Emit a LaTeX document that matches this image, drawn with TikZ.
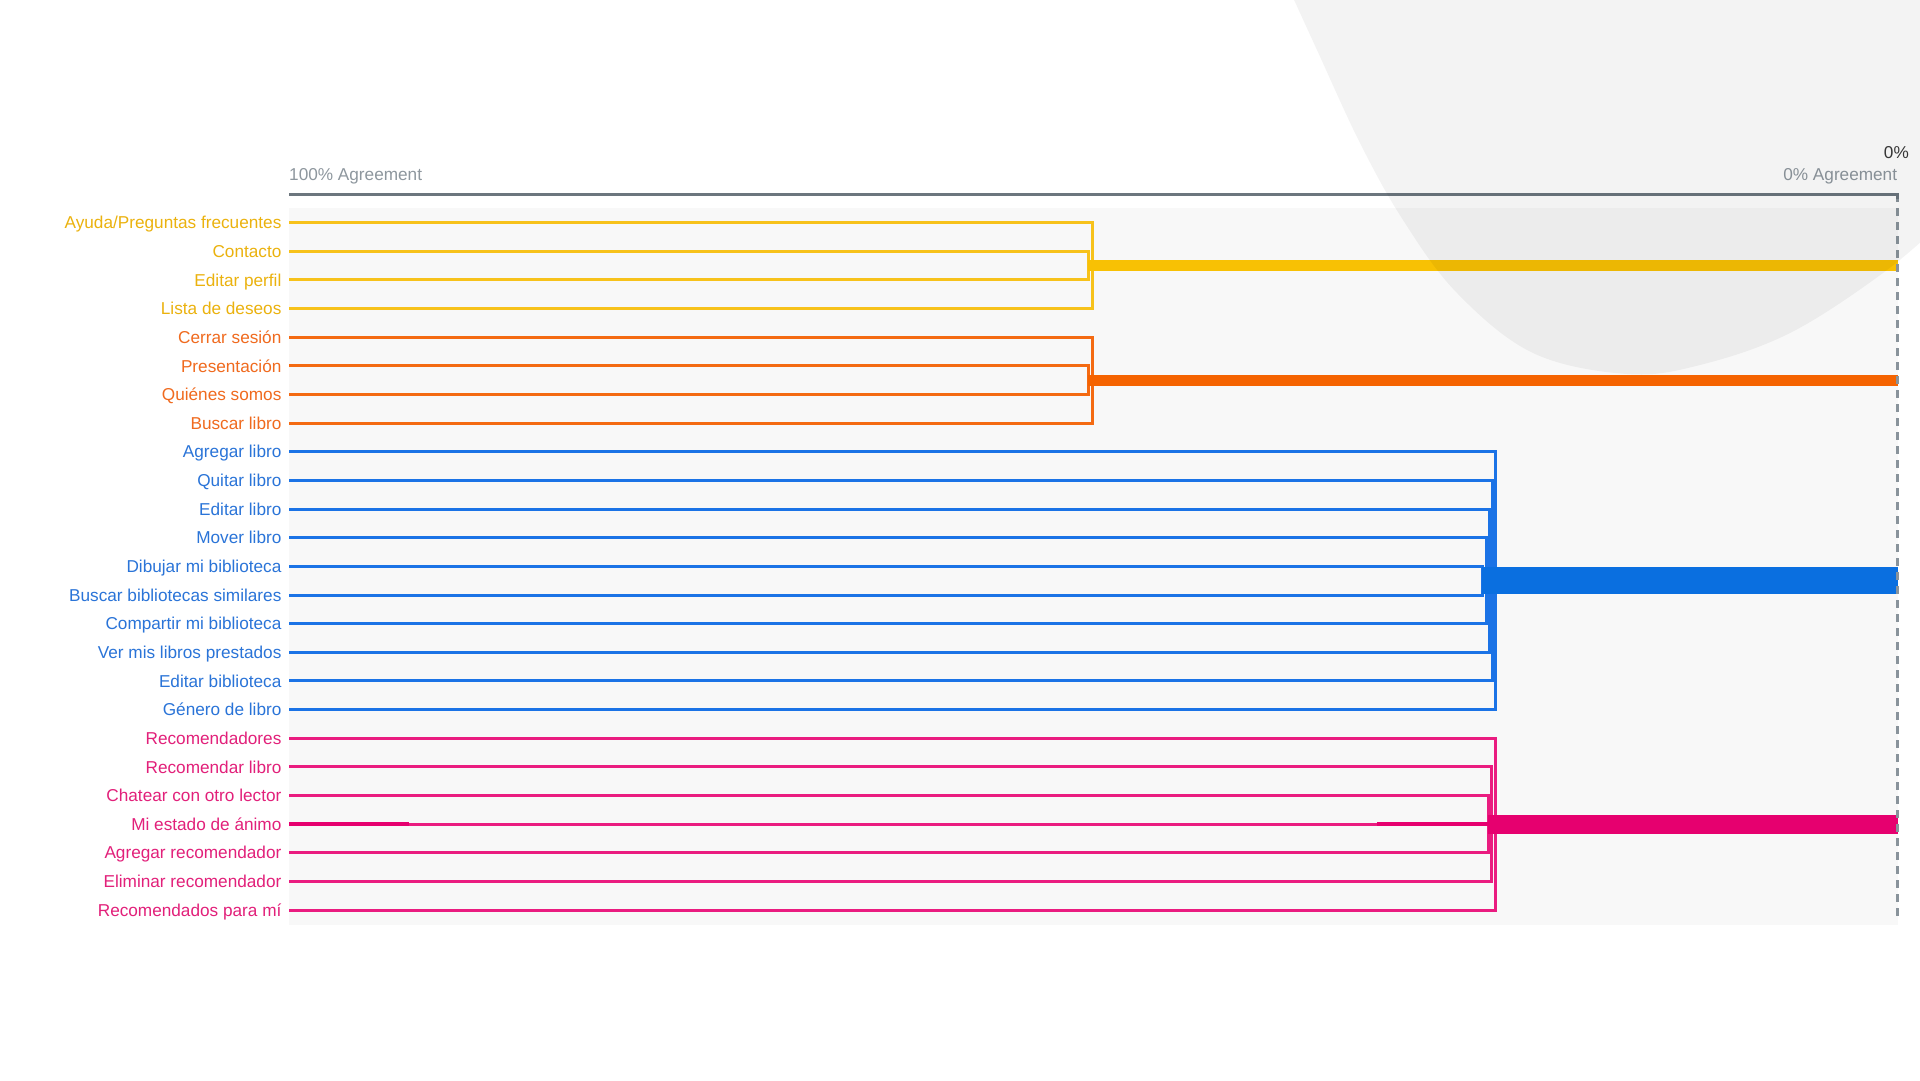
\documentclass[tikz,border=0pt]{standalone}
\usepackage{fontspec}
\setmainfont{Liberation Sans}
\definecolor{colYlab}{HTML}{EBB20E}
\definecolor{colYline}{HTML}{F7C21B}
\definecolor{colYbar}{HTML}{F8C104}
\definecolor{colOlab}{HTML}{F06A1E}
\definecolor{colOline}{HTML}{F46A12}
\definecolor{colObar}{HTML}{F56300}
\definecolor{colBlab}{HTML}{2A74D8}
\definecolor{colBline}{HTML}{1B73E6}
\definecolor{colBbar}{HTML}{0A6FE0}
\definecolor{colPlab}{HTML}{E2207A}
\definecolor{colPline}{HTML}{EA1C80}
\definecolor{colPbar}{HTML}{E6006F}
\definecolor{colAxis}{HTML}{6C767E}
\definecolor{colDash}{HTML}{89939B}
\definecolor{colAgree}{HTML}{8E979E}
\definecolor{colPanel}{HTML}{F8F8F8}
\begin{document}
\begin{tikzpicture}[x=1pt,y=-1pt,
  lbl/.style={anchor=east, inner sep=0pt, text height=12.3pt, text depth=0pt,
              font=\fontsize{17.2}{20}\selectfont},
  axtxt/.style={inner sep=0pt, font=\fontsize{17.2}{20}\selectfont},
  rl/.style={line width=3pt, line cap=butt, line join=miter},
  barline/.style={line cap=butt}]
\fill[white] (0,0) rectangle (1920,1080);
\useasboundingbox (0,0) rectangle (1920,1080);
% panel
\fill[colPanel] (289,208) rectangle (1898,925);
% row anchor coordinates
\foreach \i in {0,...,24} {
  \coordinate (s\i) at (289,{222.7+28.64*\i});
}
% bracket x positions
\coordinate (yo) at (1092,0);
\coordinate (yi) at (1088,0);
\coordinate (b1) at (1495,0);
\coordinate (b2) at (1492,0);
\coordinate (b3) at (1489,0);
\coordinate (b4) at (1486,0);
\coordinate (b5) at (1482.5,0);
\coordinate (p1) at (1495,0);
\coordinate (p2) at (1491.3,0);
\coordinate (p3) at (1488,0);
\coordinate (endx) at (1897.5,0);
% axis
\coordinate (axl) at (289,194);
\coordinate (axr) at (1897.5,194);
\coordinate (axb) at (1897.5,920);
\draw[colAxis, line width=3pt] (axl) -- (axr);
% labels
\node[lbl, colYlab] (lab0) at ([xshift=-7.4pt]s0) {Ayuda/Preguntas frecuentes};
\node[lbl, colYlab] (lab1) at ([xshift=-7.4pt]s1) {Contacto};
\node[lbl, colYlab] (lab2) at ([xshift=-7.4pt]s2) {Editar perfil};
\node[lbl, colYlab] (lab3) at ([xshift=-7.4pt]s3) {Lista de deseos};
\node[lbl, colOlab] (lab4) at ([xshift=-7.4pt]s4) {Cerrar sesión};
\node[lbl, colOlab] (lab5) at ([xshift=-7.4pt]s5) {Presentación};
\node[lbl, colOlab] (lab6) at ([xshift=-7.4pt]s6) {Quiénes somos};
\node[lbl, colOlab] (lab7) at ([xshift=-7.4pt]s7) {Buscar libro};
\node[lbl, colBlab] (lab8) at ([xshift=-7.4pt]s8) {Agregar libro};
\node[lbl, colBlab] (lab9) at ([xshift=-7.4pt]s9) {Quitar libro};
\node[lbl, colBlab] (lab10) at ([xshift=-7.4pt]s10) {Editar libro};
\node[lbl, colBlab] (lab11) at ([xshift=-7.4pt]s11) {Mover libro};
\node[lbl, colBlab] (lab12) at ([xshift=-7.4pt]s12) {Dibujar mi biblioteca};
\node[lbl, colBlab] (lab13) at ([xshift=-7.4pt]s13) {Buscar bibliotecas similares};
\node[lbl, colBlab] (lab14) at ([xshift=-7.4pt]s14) {Compartir mi biblioteca};
\node[lbl, colBlab] (lab15) at ([xshift=-7.4pt]s15) {Ver mis libros prestados};
\node[lbl, colBlab] (lab16) at ([xshift=-7.4pt]s16) {Editar biblioteca};
\node[lbl, colBlab] (lab17) at ([xshift=-7.4pt]s17) {Género de libro};
\node[lbl, colPlab] (lab18) at ([xshift=-7.4pt]s18) {Recomendadores};
\node[lbl, colPlab] (lab19) at ([xshift=-7.4pt]s19) {Recomendar libro};
\node[lbl, colPlab] (lab20) at ([xshift=-7.4pt]s20) {Chatear con otro lector};
\node[lbl, colPlab] (lab21) at ([xshift=-7.4pt]s21) {Mi estado de ánimo};
\node[lbl, colPlab] (lab22) at ([xshift=-7.4pt]s22) {Agregar recomendador};
\node[lbl, colPlab] (lab23) at ([xshift=-7.4pt]s23) {Eliminar recomendador};
\node[lbl, colPlab] (lab24) at ([xshift=-7.4pt]s24) {Recomendados para mí};
% yellow cluster
\draw[rl, colYline] (s0) -- (s0 -| yo) -- (s3 -| yo) -- (s3);
\draw[rl, colYline] (s1) -- (s1 -| yi) -- (s2 -| yi) -- (s2);
\coordinate (ym) at (1088,265.66);
\draw[barline, colYbar, line width=11pt] (ym) -- (ym -| endx);
% orange cluster
\draw[rl, colOline] (s4) -- (s4 -| yo) -- (s7 -| yo) -- (s7);
\draw[rl, colOline] (s5) -- (s5 -| yi) -- (s6 -| yi) -- (s6);
\coordinate (om) at (1088,380.22);
\draw[barline, colObar, line width=11pt] (om) -- (om -| endx);
% blue cluster
\draw[rl, colBline] (s8) -- (s8 -| b1) -- (s17 -| b1) -- (s17);
\draw[rl, colBline] (s9) -- (s9 -| b2) -- (s16 -| b2) -- (s16);
\draw[rl, colBline] (s10) -- (s10 -| b3) -- (s15 -| b3) -- (s15);
\draw[rl, colBline] (s11) -- (s11 -| b4) -- (s14 -| b4) -- (s14);
\draw[rl, colBline] (s12) -- (s12 -| b5) -- (s13 -| b5) -- (s13);
\coordinate (bm) at (1482,580.7);
\draw[barline, colBbar, line width=27pt] (bm) -- (bm -| endx);
% pink cluster
\draw[rl, colPline] (s18) -- (s18 -| p1) -- (s24 -| p1) -- (s24);
\draw[rl, colPline] (s19) -- (s19 -| p2) -- (s23 -| p2) -- (s23);
\draw[rl, colPline] (s20) -- (s20 -| p3) -- (s22 -| p3) -- (s22);
\draw[rl, colPline] (s21) -- (s21 -| p1);
\draw[colPbar, line width=3.4pt] (s21) -- ([xshift=120pt]s21);
\draw[colPbar, line width=3.4pt] ([xshift=1088pt]s21) -- (s21 -| p3);
\coordinate (pm) at (1488,824.14);
\draw[barline, colPbar, line width=19pt] (pm) -- (pm -| endx);
% dashed right boundary
\draw[colDash, line width=2.4pt, dash pattern=on 8pt off 6pt] (axr) -- (axb);
\draw[colAxis, line width=3pt, line cap=butt] (1896,194) -- (1897.5,194) -- (1897.5,199);
% axis texts
\node[axtxt, colAgree, anchor=base west] (t100) at (289,180) {100\% Agreement};
\node[axtxt, colAgree, anchor=base east] (t0a) at (1897.3,180) {0\% Agreement};
\node[axtxt, black!78, anchor=base east] (t0) at (1909,158.3) {0\%};
% background blob (translucent)
\fill[black, opacity=0.047] plot[smooth, tension=0.6] coordinates {(1285,-20) (1317,50) (1360,143) (1403,220) (1457,293) (1533,353) (1627,374) (1700,365) (1790,333) (1883,273) (1945,220)} -- (1945,-20) -- cycle;
\end{tikzpicture}
\end{document}
